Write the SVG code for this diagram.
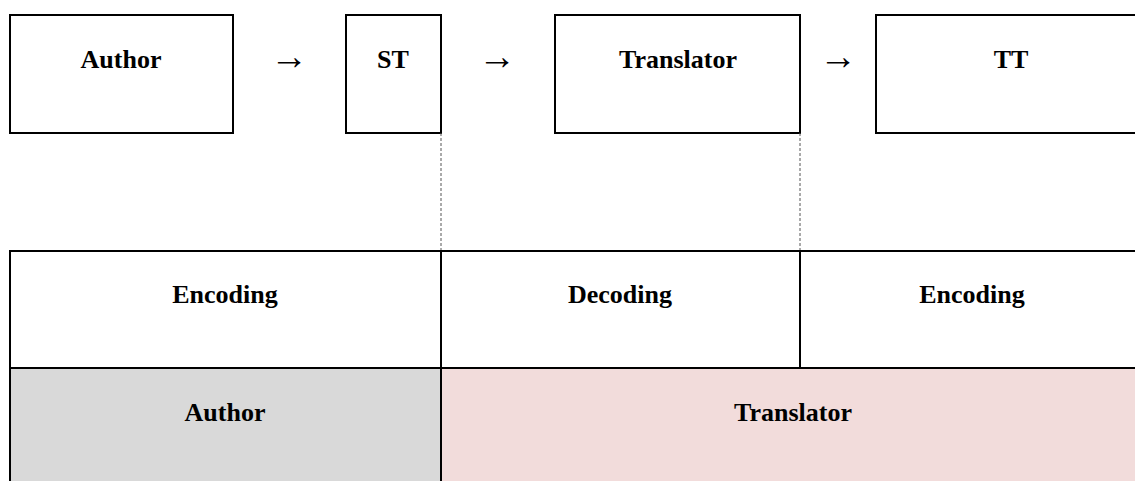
<svg xmlns="http://www.w3.org/2000/svg" width="1135" height="481" viewBox="0 0 1135 481">
  <style>
    .box { fill: #ffffff; stroke: #000000; stroke-width: 2; }
    .cell { stroke: #000000; stroke-width: 2; }
    .lbl { font-family: "Liberation Serif", "Times New Roman", serif; font-weight: bold; font-size: 26px; fill: #000000; text-anchor: middle; }
    .arrow { font-family: "Liberation Serif", "Times New Roman", serif; font-size: 38px; fill: #000000; text-anchor: middle; }
    .guide { stroke: #555555; stroke-width: 1; stroke-dasharray: 3 2; fill: none; }
  </style>

  <!-- top row: process chain -->
  <g id="node-author">
    <rect class="box" x="10" y="15" width="223" height="118"/>
    <text class="lbl" x="121" y="68">Author</text>
  </g>
  <g id="node-st">
    <rect class="box" x="346" y="15" width="95" height="118"/>
    <text class="lbl" x="393" y="68">ST</text>
  </g>
  <g id="node-translator">
    <rect class="box" x="555" y="15" width="245" height="118"/>
    <text class="lbl" x="678" y="68">Translator</text>
  </g>
  <g id="node-tt">
    <rect class="box" x="876" y="15" width="272" height="118"/>
    <text class="lbl" x="1011" y="68">TT</text>
  </g>

  <!-- connectors: arrows between nodes and dashed guides down to the table -->
  <g id="connectors">
    <text class="arrow" x="289" y="69">→</text>
    <text class="arrow" x="497" y="69">→</text>
    <text class="arrow" x="838" y="69">→</text>
    <line class="guide" x1="441" y1="133" x2="441" y2="251"/>
    <line class="guide" x1="800" y1="133" x2="800" y2="251"/>
  </g>

  <!-- bottom table: phases and roles -->
  <g id="cell-encoding-1">
    <rect class="cell" x="10" y="251" width="431" height="117" fill="#ffffff"/>
    <text class="lbl" x="225" y="303">Encoding</text>
  </g>
  <g id="cell-decoding">
    <rect class="cell" x="441" y="251" width="359" height="117" fill="#ffffff"/>
    <text class="lbl" x="620" y="303">Decoding</text>
  </g>
  <g id="cell-encoding-2">
    <rect class="cell" x="800" y="251" width="350" height="117" fill="#ffffff"/>
    <text class="lbl" x="972" y="303">Encoding</text>
  </g>
  <g id="cell-author">
    <rect class="cell" x="10" y="368" width="431" height="125" fill="#d9d9d9"/>
    <text class="lbl" x="225" y="421">Author</text>
  </g>
  <g id="cell-translator">
    <rect class="cell" x="441" y="368" width="709" height="125" fill="#f2dcdb"/>
    <text class="lbl" x="793" y="421">Translator</text>
  </g>
</svg>
